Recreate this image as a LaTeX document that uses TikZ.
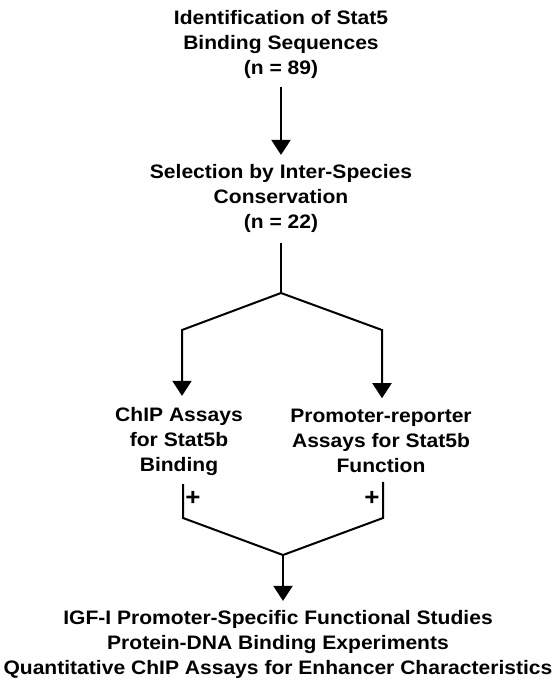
\documentclass[tikz,border=0pt]{standalone}
\usepackage{fontspec}
\setmainfont[FakeStretch=1.08]{Liberation Sans}
\usetikzlibrary{positioning,arrows.meta,calc}

\begin{document}
\begin{tikzpicture}[
  x=1pt,y=-1pt,
  >={Triangle[width=19pt,length=15pt]},
  line width=2pt,
  every node/.style={font=\fontsize{19.5}{25}\selectfont\bfseries,align=center,inner sep=0pt},
  plus/.style={font=\fontsize{24}{25}\selectfont\bfseries}
]
\useasboundingbox (0,0) rectangle (557,681);

\node (ident) at (281,44) {Identification of Stat5\\Binding Sequences\\(n = 89)};
\node (sel) at (281,198) {Selection by Inter-Species\\Conservation\\(n = 22)};
\node (chip) at (179,441) {ChIP Assays\\for Stat5b\\Binding};
\node (prom) at (381,441) {Promoter-reporter\\Assays for Stat5b\\Function};
\node (final) at (278,644) {IGF-I Promoter-Specific Functional Studies\\Protein-DNA Binding Experiments\\Quantitative ChIP Assays for Enhancer Characteristics};

\coordinate (split) at (281,293);
\coordinate (lbend) at (182,330);
\coordinate (rbend) at (382,330);
\coordinate (lfoot) at (183,518);
\coordinate (rfoot) at (383,518);
\coordinate (join) at (283,555);

% top part
\draw[->,shorten <=8pt,shorten >=8pt] (ident.south) -- (sel.north);
\draw[shorten <=10pt] (sel.south) -- (split);
\draw[->,shorten >=10pt] (split) -- (lbend) -- (lbend |- chip.north);
\draw[->,shorten >=10pt] (split) -- (rbend) -- (rbend |- prom.north);

% bottom part
\draw[shorten <=8pt] (lfoot |- chip.south) -- (lfoot) -- (join);
\draw[shorten <=8pt] (rfoot |- prom.south) -- (rfoot) -- (join);
\draw[->,shorten >=8pt] (join) -- (join |- final.north);

\node[plus] (lplus) at (193,498) {+};
\node[plus] (rplus) at (372,498) {+};
\end{tikzpicture}
\end{document}
